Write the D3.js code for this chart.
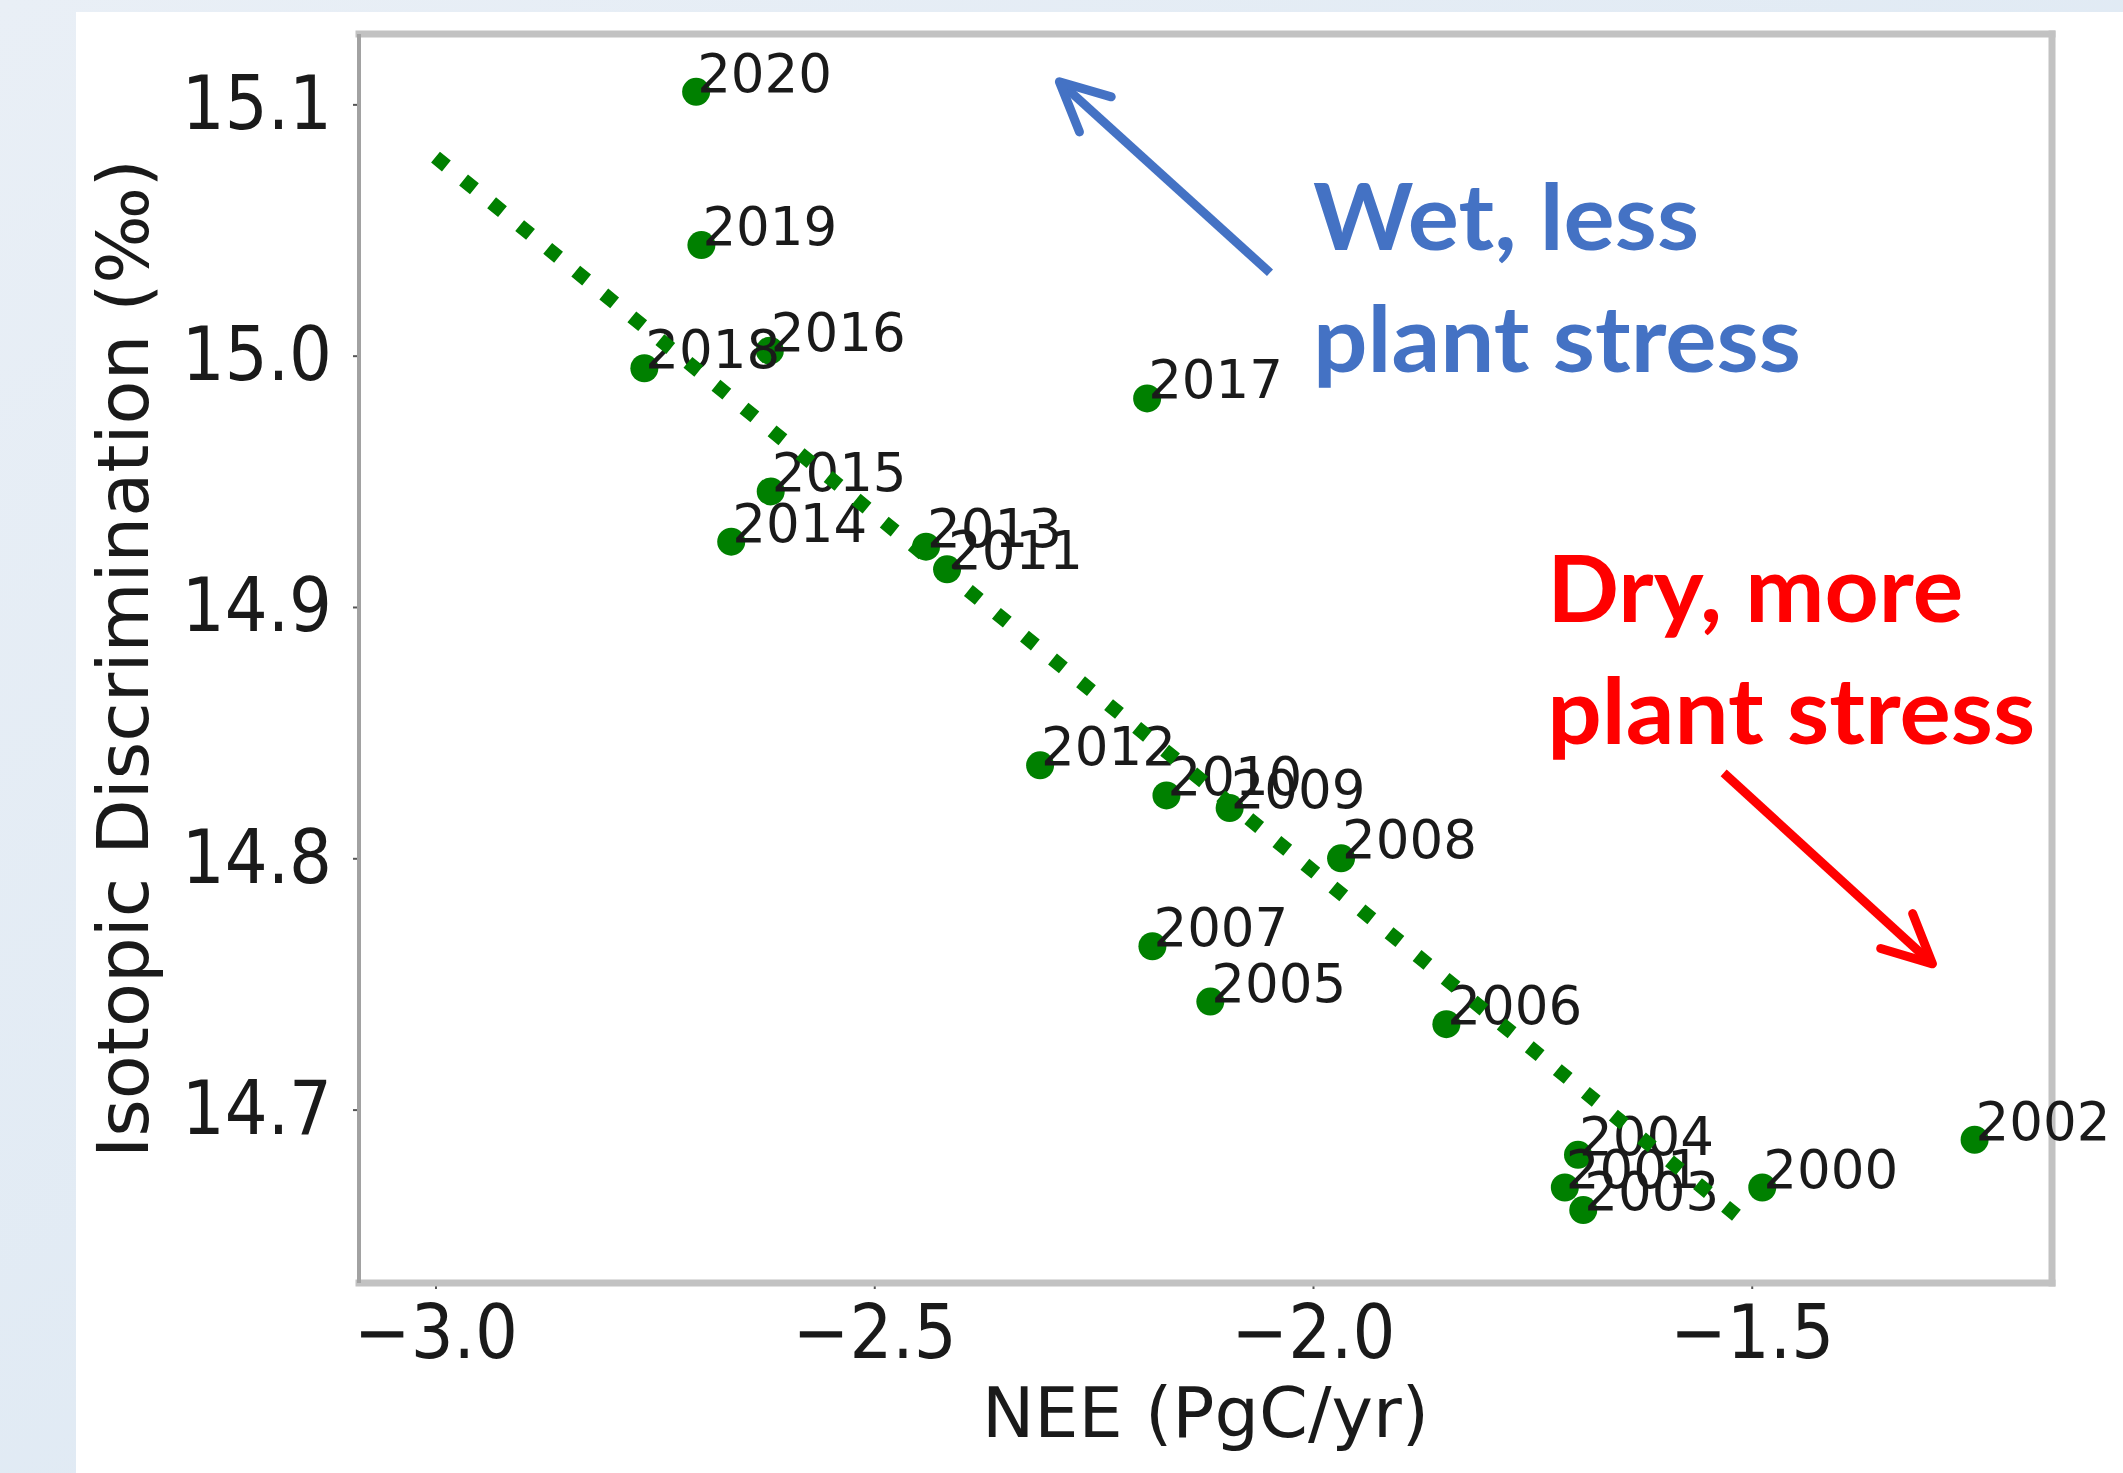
<!DOCTYPE html>
<html>
<head>
<meta charset="utf-8">
<script src="https://cdn.jsdelivr.net/npm/d3@7"></script>
<style>
  html, body { margin: 0; padding: 0; background: #dfe9f3; }
  #chart { width: 2123px; height: 1473px; }
</style>
</head>
<body>
<div id="chart"></div>
<script>
/* NEE vs isotopic discrimination scatter — D3 v7 */

var years   = [2000, 2001, 2002, 2003, 2004, 2005, 2006, 2007, 2008, 2009, 2010,
               2011, 2012, 2013, 2014, 2015, 2016, 2017, 2018, 2019, 2020];
var neeVals = [-1.488, -1.713, -1.246, -1.692, -1.698, -2.117, -1.848, -2.183, -1.968, -2.095, -2.167,
               -2.417, -2.311, -2.441, -2.663, -2.618, -2.619, -2.189, -2.762, -2.697, -2.703];
var discVals = [14.669, 14.669, 14.688, 14.660, 14.682, 14.743, 14.734, 14.765, 14.800, 14.820, 14.825,
                14.915, 14.837, 14.924, 14.926, 14.946, 15.002, 14.983, 14.995, 15.044, 15.105];

// dotted fit line end points
var fitX = [-3.0, -1.5];
var fitY = [15.079, 14.653];

var xTicks = [-3.0, -2.5, -2.0, -1.5];
var yTicks = [14.7, 14.8, 14.9, 15.0, 15.1];

// callouts (data units)
var wetArrow = { x1: -2.049, y1: 15.033, x2: -2.289, y2: 15.109 };
var dryArrow = { x1: -1.532, y1: 14.834, x2: -1.294, y2: 14.758 };
var wetLines = ["Wet, less", "plant stress"];
var dryLines = ["Dry, more", "plant stress"];

(function () {
  "use strict";

  var W = 2123, H = 1473;
  var margin = { top: 34, right: 71, bottom: 190, left: 359 };
  var iW = W - margin.left - margin.right;
  var iH = H - margin.top - margin.bottom;

  var data = years.map(function (yr, i) {
    return { year: yr, nee: neeVals[i], disc: discVals[i] };
  });

  var svg = d3.select("#chart").append("svg")
    .attr("width", W).attr("height", H).style("display", "block");

  // ── Slide background ──────────────────────────────────────────────────────
  var grad = svg.append("defs").append("linearGradient").attr("id", "bg")
    .attr("x1", "0").attr("y1", "0").attr("x2", "1").attr("y2", "1");
  grad.append("stop").attr("offset", "0").attr("stop-color", "#e9eff6");
  grad.append("stop").attr("offset", "1").attr("stop-color", "#d9e6f2");
  svg.append("rect").attr("width", W).attr("height", H).attr("fill", "url(#bg)");
  svg.append("rect").attr("x", 76).attr("y", 12).attr("width", W - 76).attr("height", H - 12)
    .attr("fill", "#fff");

  var g = svg.append("g").attr("transform", "translate(" + margin.left + "," + margin.top + ")");

  var x = d3.scaleLinear().domain([-3.0872, -1.1578]).range([0, iW]);
  var y = d3.scaleLinear().domain([14.631, 15.128]).range([iH, 0]);

  var tickFont = "'DejaVu Sans Condensed', 'DejaVu Sans', sans-serif";
  var mainFont = "'DejaVu Sans', sans-serif";

  // ── Axes ──────────────────────────────────────────────────────────────────
  var gX = g.append("g").attr("transform", "translate(0," + iH + ")")
    .call(d3.axisBottom(x).tickValues(xTicks).tickSize(6).tickPadding(16)
      .tickFormat(function (d) { return d3.format(".1f")(d).replace("-", "\u2212"); }));
  var gY = g.append("g")
    .call(d3.axisLeft(y).tickValues(yTicks).tickSize(6).tickPadding(21)
      .tickFormat(d3.format(".1f")));

  [gX, gY].forEach(function (ax) {
    ax.select(".domain").remove();
    ax.selectAll("line").attr("stroke", "#555").attr("stroke-width", 2);
    ax.selectAll("text").attr("fill", "#1a1a1a")
      .style("font-family", tickFont).style("font-stretch", "condensed")
      .style("font-size", "75px");
  });

  // spines
  var spines = g.append("g");
  spines.append("line").attr("x1", 0).attr("x2", iW).attr("y1", 0).attr("y2", 0);
  spines.append("line").attr("x1", iW).attr("x2", iW).attr("y1", 0).attr("y2", iH);
  spines.append("line").attr("x1", 0).attr("x2", iW).attr("y1", iH).attr("y2", iH);
  spines.selectAll("line").attr("stroke", "#c2c2c2").attr("stroke-width", 7)
    .attr("stroke-linecap", "square");
  spines.append("line").attr("x1", 0).attr("x2", 0).attr("y1", 0).attr("y2", iH)
    .attr("stroke", "#a2a2a2").attr("stroke-width", 4);

  g.append("text").attr("x", iW / 2).attr("y", iH + 154)
    .attr("text-anchor", "middle").attr("fill", "#1a1a1a")
    .style("font-family", mainFont).style("font-size", "70px")
    .text("NEE (PgC/yr)");
  g.append("text").attr("transform", "rotate(-90)").attr("x", -iH / 2).attr("y", 148 - margin.left)
    .attr("text-anchor", "middle").attr("fill", "#1a1a1a")
    .style("font-family", mainFont).style("font-size", "72px")
    .text("Isotopic Discrimination (\u2030)");

  // ── Points + year labels ──────────────────────────────────────────────────
  g.selectAll(".pt").data(data).enter().append("circle").attr("class", "pt")
    .attr("cx", function (d) { return x(d.nee); })
    .attr("cy", function (d) { return y(d.disc); })
    .attr("r", 14)
    .attr("fill", "#008000");

  g.selectAll(".yr").data(data).enter().append("text").attr("class", "yr")
    .attr("x", function (d) { return x(d.nee) + 1; })
    .attr("y", function (d) { return y(d.disc); })
    .attr("fill", "#1a1a1a")
    .style("font-family", mainFont).style("font-size", "53px")
    .text(function (d) { return d.year; });

  // ── Dotted fit line ───────────────────────────────────────────────────────
  var fit = fitX.map(function (v, i) { return { nee: v, disc: fitY[i] }; });
  g.append("path").datum(fit)
    .attr("fill", "none").attr("stroke", "#008000").attr("stroke-width", 14)
    .attr("stroke-dasharray", "14 22.15")
    .attr("d", d3.line()
      .x(function (d) { return x(d.nee); })
      .y(function (d) { return y(d.disc); }));

  // ── Callouts ──────────────────────────────────────────────────────────────
  function arrow(a, color) {
    var x1 = x(a.x1), y1 = y(a.y1), x2 = x(a.x2), y2 = y(a.y2);
    var ang = Math.atan2(y1 - y2, x1 - x2);
    var len = 54, spread = 26 * Math.PI / 180;
    var ag = g.append("g").attr("stroke", color).attr("stroke-width", 9).attr("fill", "none");
    ag.append("line").attr("x1", x1).attr("y1", y1).attr("x2", x2).attr("y2", y2);
    ag.append("path")
      .attr("stroke-linecap", "round").attr("stroke-linejoin", "round")
      .attr("d", "M" + (x2 + len * Math.cos(ang - spread)) + "," + (y2 + len * Math.sin(ang - spread)) +
                 "L" + x2 + "," + y2 +
                 "L" + (x2 + len * Math.cos(ang + spread)) + "," + (y2 + len * Math.sin(ang + spread)));
  }
  arrow(wetArrow, "#4472c4");
  arrow(dryArrow, "#ff0000");

  function callout(lines, lengths, nx, ny, color) {
    var t = g.append("text").attr("fill", color)
      .style("font-family", "Lato, 'Open Sans', sans-serif")
      .style("font-weight", "bold").style("font-size", "92px");
    lines.forEach(function (s, i) {
      t.append("tspan").attr("x", x(nx)).attr("y", y(ny) + i * 122)
        .attr("textLength", lengths[i]).attr("lengthAdjust", "spacingAndGlyphs")
        .text(s);
    });
  }
  callout(wetLines, [386, 488], -2.0, 15.042, "#4472c4");
  callout(dryLines, [416, 488], -1.733, 14.894, "#ff0000");
})();
</script>
</body>
</html>
